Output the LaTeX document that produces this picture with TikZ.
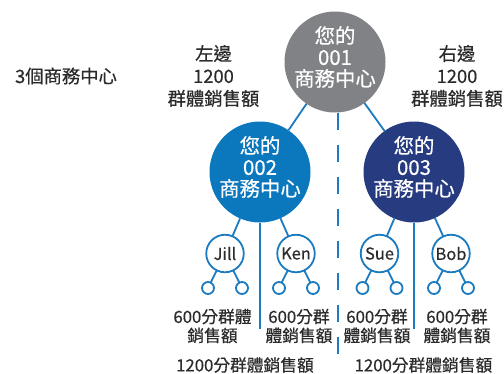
\documentclass[tikz,border=0pt]{standalone}
\usepackage{fontspec}
\setmainfont{Noto Sans CJK TC}[FakeBold=0.45]
\definecolor{cgray}{HTML}{808285}
\definecolor{cblue}{HTML}{0B78BE}
\definecolor{cnavy}{HTML}{263B80}
\definecolor{cline}{HTML}{1A7BC0}
\definecolor{ctext}{HTML}{2B2B2B}
\tikzset{
 big/.style={circle, minimum size=101bp, inner sep=0pt, outer sep=0pt},
 mid/.style={circle, draw=cline, line width=1.8bp, fill=white, minimum size=37.5bp, inner sep=0pt, outer sep=0pt, font=\fontsize{16.5}{16.5}\selectfont, text=ctext},
 tiny/.style={circle, draw=cline, line width=1.8bp, fill=white, minimum size=12bp, inner sep=0pt, outer sep=0pt},
 conn/.style={draw=cline, line width=1.8bp},
 lbl/.style={align=center, text=ctext, font=\fontsize{18.4}{22.5}\selectfont, inner sep=0pt},
 ctxt/.style={align=center, text=white, font=\fontsize{20.5}{21.5}\selectfont, inner sep=0pt},
 sub/.style={align=center, text=ctext, font=\fontsize{16.8}{19}\selectfont, inner sep=0pt},
}
\begin{document}
\begin{tikzpicture}[x=1bp, y=-1bp]
\useasboundingbox[fill=white] (0,0) rectangle (504,373);
% dashed divider
\coordinate (d1) at (338,113);
\coordinate (d2) at (338,357);
\draw[conn, dash pattern=on 17bp off 15bp] (d1) -- (d2);
% big circles
\node[big, fill=cgray] (top) at (335,62) {};
\node[big, fill=cblue] (c2) at (260,172) {};
\node[big, fill=cnavy] (c3) at (414,172) {};
\node[ctxt] (t1) at (335,57) {您的\\001\\商務中心};
\node[ctxt] (t2) at (260,167) {您的\\002\\商務中心};
\node[ctxt] (t3) at (414,167) {您的\\003\\商務中心};
\draw[conn] (top) -- (c2);
\draw[conn] (top) -- (c3);
% vertical lines
\coordinate (v2) at (260,329);
\coordinate (v3) at (414,329);
\draw[conn] (c2.south) -- (v2);
\draw[conn] (c3.south) -- (v3);
% people
\node[mid] (jill) at (225,253.5) {Jill};
\node[mid] (ken) at (296,253.5) {Ken};
\node[mid] (sue) at (379.5,253.5) {Sue};
\node[mid] (bob) at (451,253.5) {Bob};
\draw[conn] (c2) -- (jill);
\draw[conn] (c2) -- (ken);
\draw[conn] (c3) -- (sue);
\draw[conn] (c3) -- (bob);
% tiny circles
\foreach \p/\x in {jill/225, ken/296, sue/379.5, bob/451}{
  \node[tiny] (\p-l) at (\x-17,288) {};
  \node[tiny] (\p-r) at (\x+17,288) {};
  \draw[conn] (\p) -- (\p-l);
  \draw[conn] (\p) -- (\p-r);
}
% labels
\node[lbl] (lab0) at (66,76) {3個商務中心};
\node[lbl] (labl) at (213.5,76) {左邊\\1200\\群體銷售額};
\node[lbl] (labr) at (457,76) {右邊\\1200\\群體銷售額};
\node[sub] (s1) at (212.5,326) {600分群體\\銷售額};
\node[sub] (s2) at (299,326) {600分群\\體銷售額};
\node[sub] (s3) at (377,326) {600分群\\體銷售額};
\node[sub] (s4) at (457,326) {600分群\\體銷售額};
\node[sub] (b1) at (245,365) {1200分群體銷售額};
\node[sub] (b2) at (423.5,365) {1200分群體銷售額};
\end{tikzpicture}
\end{document}
